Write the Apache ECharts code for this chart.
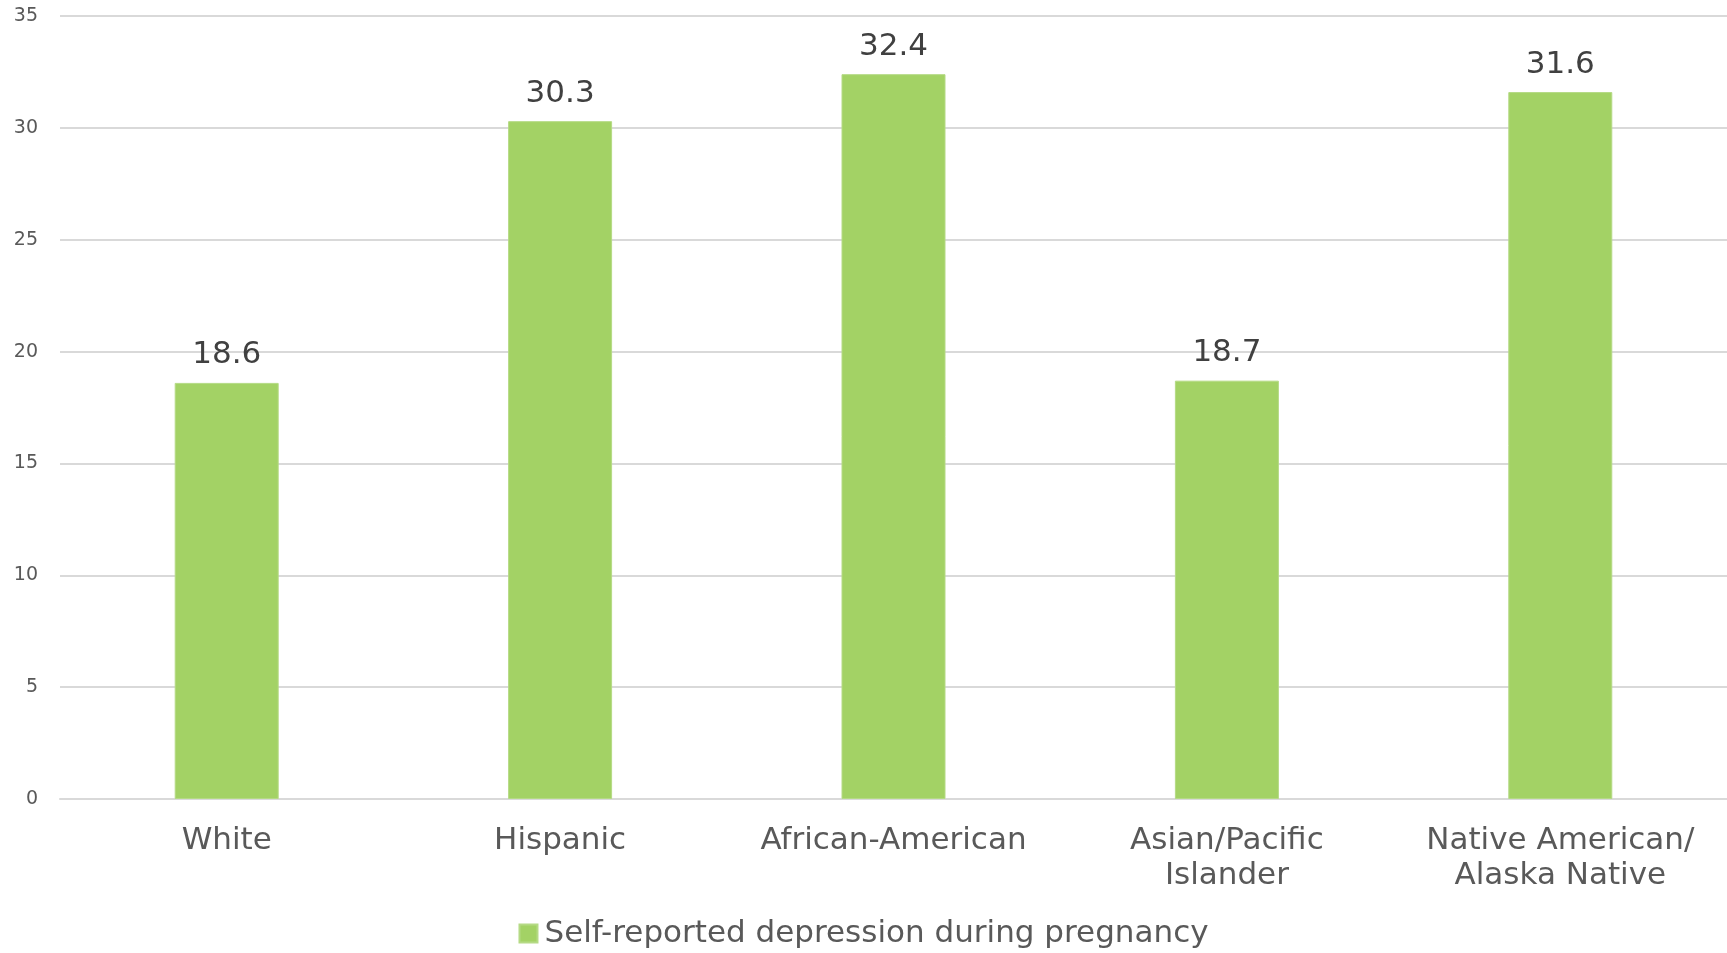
<!DOCTYPE html>
<html>
<head>
<meta charset="utf-8">
<script src="https://cdn.jsdelivr.net/npm/echarts@6/dist/echarts.min.js"></script>
<style>
  html, body { margin: 0; padding: 0; background: #ffffff; }
  #chart { width: 1727px; height: 953px; }
</style>
</head>
<body>
<div id="chart"></div>
<script>
// Share of respondents reporting depression during pregnancy, by group
const categories = ['White', 'Hispanic', 'African-American', 'Asian/Pacific\nIslander', 'Native American/\nAlaska Native'];
const seriesName = 'Self-reported depression during pregnancy';
const values = [18.6, 30.3, 32.4, 18.7, 31.6];
const yTicks = { min: 0, max: 35, interval: 5 };

const font = 'DejaVu Sans';
const chart = echarts.init(document.getElementById('chart'));
chart.setOption({
  animation: false,
  backgroundColor: '#ffffff',
  grid: { left: 60, right: 0, top: 16, bottom: 154, containLabel: false },
  legend: {
    top: 913,
    left: 'center',
    itemWidth: 18,
    itemHeight: 18,
    itemGap: 10,
    icon: 'rect',
    textStyle: { fontFamily: font, fontSize: 31, color: '#595959', padding: [0, 0, 0, 2] },
    data: [seriesName]
  },
  xAxis: {
    type: 'category',
    data: categories,
    axisLine: { show: true, lineStyle: { color: '#d9d9d9', width: 2 } },
    axisTick: { show: false },
    axisLabel: {
      fontFamily: font, fontSize: 31, color: '#595959',
      lineHeight: 35, margin: 24, interval: 0
    }
  },
  yAxis: {
    type: 'value',
    min: yTicks.min, max: yTicks.max, interval: yTicks.interval,
    axisLine: { show: false },
    axisTick: { show: false },
    axisLabel: { fontFamily: font, fontSize: 19, color: '#595959', margin: 22, padding: [4, 0, 0, 0] },
    splitLine: { lineStyle: { color: '#d9d9d9', width: 2 } }
  },
  series: [{
    name: seriesName,
    type: 'bar',
    data: values,
    barWidth: 104,
    itemStyle: { color: '#a3d265', borderColor: '#b5da85', borderWidth: 1 },
    label: {
      show: true, position: 'top', distance: 12,
      fontFamily: font, fontSize: 31, color: '#404040'
    }
  }]
});
</script>
</body>
</html>
